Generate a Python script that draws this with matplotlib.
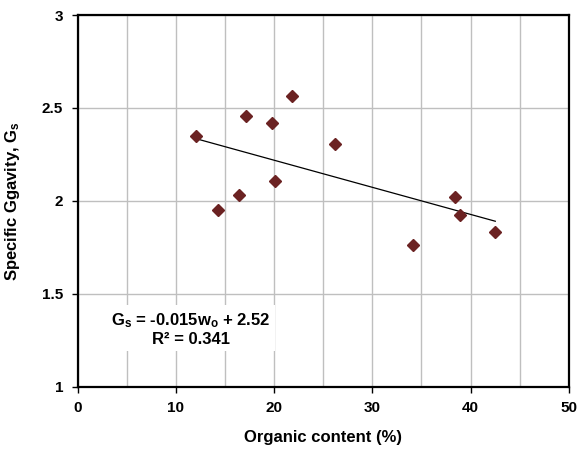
import numpy as np
import matplotlib
matplotlib.use("Agg")
import matplotlib.pyplot as plt

# --- DATA ---
organic_content = [12.05, 17.17, 19.82, 21.79, 26.2, 14.29, 16.46, 20.09, 38.39, 38.9, 34.14, 42.52]
specific_gravity = [2.347, 2.456, 2.417, 2.564, 2.308, 1.949, 2.032, 2.109, 2.019, 1.921, 1.762, 1.834]
x_ticks = [0, 10, 20, 30, 40, 50]
y_ticks = [1, 1.5, 2, 2.5, 3]
y_tick_labels = ["1", "1.5", "2", "2.5", "3"]

# --- STYLE ---
plt.rcParams["font.family"] = ["Liberation Sans", "DejaVu Sans"]
plt.rcParams["font.weight"] = "bold"
plt.rcParams["mathtext.fontset"] = "custom"
plt.rcParams["mathtext.rm"] = "Liberation Sans:bold"
plt.rcParams["mathtext.it"] = "Liberation Sans:bold"
plt.rcParams["mathtext.default"] = "rm"

fig = plt.figure(figsize=(5.78, 4.55), dpi=100)
ax = fig.add_axes([0.1344, 0.1505, 0.8496, 0.8165])

x = np.array(organic_content)
y = np.array(specific_gravity)

# --- TREND LINE ---
slope, intercept = np.polyfit(x, y, 1)
xf = np.array([x.min(), x.max()])
ax.plot(xf, slope * xf + intercept, color="black", linewidth=0.9, zorder=3)

# --- POINTS ---
ax.plot(x, y, linestyle="none", marker="D", markersize=6, color="#6B2222", zorder=4)

# --- AXES ---
ax.set_xlim(0, 50)
ax.set_ylim(1, 3)
ax.set_xticks(x_ticks)
ax.set_xticks(np.arange(5, 50, 10), minor=True)
ax.set_yticks(y_ticks)
ax.set_yticklabels(y_tick_labels)
ax.tick_params(axis="both", which="major", direction="out", length=4.5, width=1,
               labelsize=11, pad=6)
ax.tick_params(axis="x", which="minor", length=0)
ax.grid(True, which="both", color="#BFBFBF", linewidth=1, zorder=0)
ax.set_axisbelow(True)
for s in ax.spines.values():
    s.set_linewidth(1.6)
    s.set_color("black")

ax.set_xlabel("Organic content (%)", fontsize=12, fontweight="bold", labelpad=11)
ax.set_ylabel("Specific Ggavity, G$_s$", fontsize=12, fontweight="bold", labelpad=14)

# --- EQUATION ---
ax.text(11.5, 1.31, "G$_s$ = -0.015w$_o$ + 2.52\nR\u00b2 = 0.341", ha="center", va="center",
        fontsize=12, fontweight="bold", linespacing=1.2,
        bbox=dict(facecolor="white", edgecolor="none", pad=3), zorder=5)

fig.savefig("out.png", dpi=100)
